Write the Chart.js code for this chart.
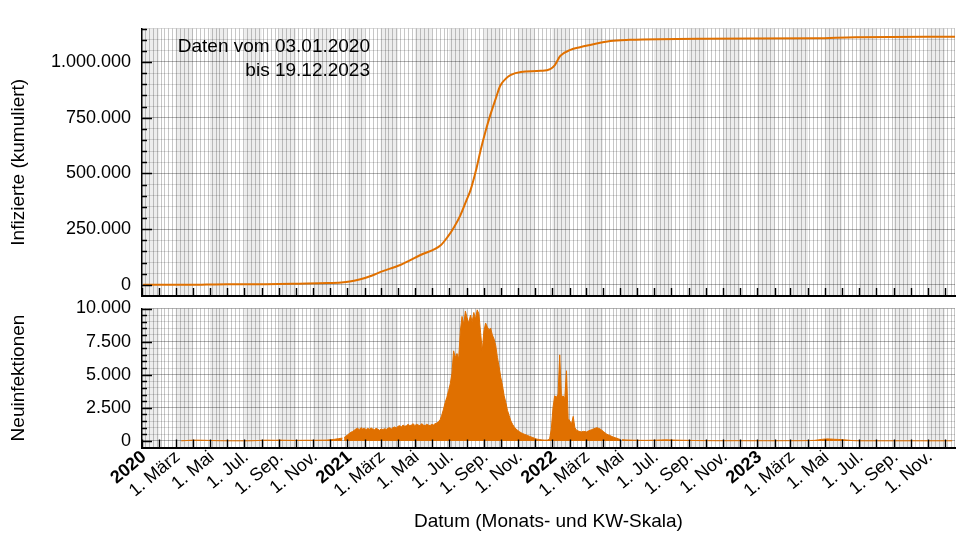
<!DOCTYPE html>
<html><head><meta charset="utf-8">
<script src="https://cdn.jsdelivr.net/npm/chart.js@4.4.1/dist/chart.umd.min.js"></script>
<style>
html,body{margin:0;padding:0;background:#fff;width:960px;height:540px;overflow:hidden;}
#c1{position:absolute;left:0;top:0;}
#c2{position:absolute;left:0;top:300px;}
</style></head><body>
<canvas id="c1" width="960" height="300"></canvas>
<canvas id="c2" width="960" height="240"></canvas>
<script>
// ---------------- data ----------------
const xStart = '2020-01-01';
const xEnd = '2023-12-19';
const noteLines = ['Daten vom 03.01.2020', 'bis 19.12.2023'];

// cumulative infections (top panel)
const cumDates = ['2020-01-03','2020-03-11','2020-04-10','2020-05-10','2020-06-09','2020-08-08','2020-10-07','2020-11-26','2020-12-21',
  '2021-01-05','2021-01-24','2021-02-14','2021-03-01','2021-04-05','2021-05-11','2021-06-16','2021-06-28','2021-07-10','2021-07-21',
  '2021-08-01','2021-08-08','2021-08-18','2021-08-26','2021-09-04','2021-09-12','2021-09-22','2021-09-30','2021-10-10','2021-10-19',
  '2021-11-06','2021-12-11','2021-12-28',
  '2022-01-05','2022-01-15','2022-02-02','2022-02-19','2022-03-09','2022-04-14','2022-05-19','2022-09-27',
  '2023-04-15','2023-06-24','2023-12-19'];
const cumValues = [0,0,300,2000,2300,3000,5500,8000,11000,
  15000,25000,42000,58000,89000,134000,178000,214000,260000,312000,
  380000,424000,515000,603000,690000,759000,835000,893000,925000,942000,
  955000,960000,968000,
  985000,1027000,1054000,1066000,1076000,1094000,1099000,1104000,
  1106000,1111000,1113000];

// new infections (bottom panel), three stretches with a fixed day step
const new2020Start = '2020-03-11', new2020Step = 7;
const new2020 = [5,20,40,50,55,50,45,35,25,15,10,8,5,5,3,3,5,5,10,20,35,50,55,50,45,60,50,45,40,35,40,45,50,45,45,50,55,60,80,120,170,210];

const newWaveStart = '2020-12-26', newWaveStep = 3;
const newWave = [
  250,350,450,550,650,700,800,900,950,850,
  1000,900,950,850,950,880,980,900,850,950,
  880,800,900,850,920,860,950,1000,900,1000,
  1050,980,1100,1150,1050,1200,1100,1150,1250,1150,
  1200,1300,1150,1250,1200,1150,1300,1200,1150,1250,
  1200,1150,1250,1200,1300,1350,1450,1600,1950,2400,
  2900,3300,3800,4300,5100,6800,6300,6600,6200,8300,
  9400,8800,9800,9300,8900,9500,9000,9700,9200,9900,
  9600,8200,6800,8300,8900,8600,8400,8500,8000,7700,
  7200,6300,5600,4800,4200,3400,2900,2300,1900,1500,
  1250,1050,900,800,700,620,550,500,450,400,
  350,300,250,200,150,120,100,80,70,60,
  60,70,150,900,2500,3400,3300,3500,6500,3300,
  3400,3200,5300,1700,1500,1300,1850,1000,800,750,
  700,680,720,700,680,750,800,850,900,950,
  1000,950,900,800,700,600,500,450,400,330,
  280,240,200,150,100];

const newLateStart = '2022-05-05', newLateStep = 7;
const newLate = [90,70,60,50,45,40,40,45,50,60,70,80,75,65,55,50,45,40,30,25,20,
  18,15,15,12,12,10,10,12,15,12,10,10,8,10,12,10,10,8,8,10,12,15,12,10,12,15,20,30,
  40,80,120,150,140,120,110,90,70,40,15,
  8,6,5,5,5,4,4,5,5,4,4,3,3,4,4,3,3,3,3,3,3,3,3,3,3];

const monthLabels = ['', '', '1. März', '', '1. Mai', '', '1. Jul.', '', '1. Sep.', '', '1. Nov.', ''];

// ---------------- helpers ----------------
const FONT = "'Liberation Sans', Arial, sans-serif";
const DAY = 86400000;
const t0 = Date.parse(xStart);
const dayOf = s => (Date.parse(s) - t0) / DAY;
const xMax = dayOf(xEnd);
const ORANGE = '#E07000';

const monthDays = [], monthIdx = [];
for (let y = 2020; y <= 2024; y++) for (let m = 0; m < 12; m++) {
  const d = (Date.UTC(y, m, 1) - t0) / DAY;
  if (d > xMax + 40) break;
  monthDays.push(d); monthIdx.push(m);
}
const weekDays = [];
for (let d = 5; d <= xMax; d += 7) weekDays.push(d);

const seg = (start, step, vals) => vals.map((v, i) => ({x: dayOf(start) + i * step, y: v}));
const deFmt = v => String(v).replace(/\B(?=(\d{3})+(?!\d))/g, '.');

function monthOf(v) { const dt = new Date(t0 + v * DAY); return {m: dt.getUTCMonth(), y: dt.getUTCFullYear()}; }

const decor = {
  id: 'decor',
  beforeDraw(chart) {
    const {ctx, chartArea: a, scales: {x}} = chart;
    ctx.save();
    ctx.beginPath(); ctx.rect(a.left, a.top, a.right - a.left, a.bottom - a.top); ctx.clip();
    ctx.fillStyle = '#ededed';
    for (let i = 0; i < monthDays.length - 1; i++) {
      if (monthIdx[i] % 2 !== 0) continue;
      const x0 = x.getPixelForValue(monthDays[i]);
      const x1 = x.getPixelForValue(monthDays[i + 1]);
      ctx.fillRect(x0, a.top, x1 - x0, a.bottom - a.top);
    }
    ctx.restore();
  },
  beforeDatasetsDraw(chart) {
    const {ctx, chartArea: a, scales: {x}} = chart;
    ctx.save();
    ctx.strokeStyle = 'rgba(0,0,0,0.22)';
    ctx.lineWidth = 1;
    ctx.beginPath();
    weekDays.forEach(d => {
      const px = Math.round(x.getPixelForValue(d)) + 0.5;
      if (px <= a.left + 1 || px > a.right) return;
      ctx.moveTo(px, a.top); ctx.lineTo(px, a.bottom);
    });
    ctx.stroke();
    ctx.restore();
  },
  afterDraw(chart, args, opts) {
    const {ctx, chartArea: a, scales: {x, y}} = chart;
    ctx.save();
    ctx.strokeStyle = '#000';
    ctx.lineWidth = 1.4;
    ctx.beginPath();
    y.ticks.forEach(t => {
      if (t.value <= y.min) return;
      const py = Math.round(y.getPixelForValue(t.value)) + 0.5;
      const len = (t.value % opts.major === 0) ? 10 : 5;
      ctx.moveTo(a.left, py); ctx.lineTo(a.left + len, py);
    });
    monthDays.forEach(d => {
      if (d > xMax) return;
      const px = Math.round(x.getPixelForValue(d)) + 0.5;
      ctx.moveTo(px, a.bottom); ctx.lineTo(px, a.bottom - 8);
    });
    ctx.stroke();
    if (opts.note) {
      ctx.fillStyle = '#000';
      ctx.font = '19px ' + FONT;
      ctx.textAlign = 'right';
      ctx.textBaseline = 'middle';
      opts.note.forEach((line, i) => ctx.fillText(line, 370, 47 + i * 24));
    }
    ctx.restore();
  }
};

function yScale(min, max, step, major, title) {
  return {
    type: 'linear', min, max,
    afterBuildTicks(s) {
      const t = [];
      for (let v = min; v <= max + 1e-6; v += step) t.push({value: v});
      s.ticks = t;
    },
    afterFit(s) { s.width = 142; s.paddingTop = 0; s.paddingBottom = 0; },
    ticks: {
      autoSkip: false, padding: 11, color: '#000',
      font: {family: FONT, size: 18},
      callback: v => (v >= 0 && v % major === 0) ? deFmt(v) : ''
    },
    grid: {
      drawTicks: false, lineWidth: 1,
      color: ctx => (ctx.tick && ctx.tick.value % major === 0) ? 'rgba(0,0,0,0.30)' : 'rgba(0,0,0,0.14)'
    },
    border: {color: '#000', width: 1.5},
    title: {display: true, text: title, color: '#000', font: {family: FONT, size: 19}, padding: {top: 7, bottom: 0}}
  };
}

// ---------------- top chart ----------------
new Chart(document.getElementById('c1'), {
  type: 'line',
  data: {
    datasets: [{
      data: cumDates.map((d, i) => ({x: dayOf(d), y: cumValues[i]})),
      borderColor: ORANGE, borderWidth: 2, pointRadius: 0, fill: false,
      cubicInterpolationMode: 'monotone'
    }]
  },
  options: {
    responsive: false, animation: false, devicePixelRatio: 1,
    layout: {padding: {top: 28.5, right: 5, left: 0, bottom: 0}},
    plugins: {legend: {display: false}, tooltip: {enabled: false}, decor: {note: noteLines, major: 250000}},
    scales: {
      x: {
        type: 'linear', min: 0, max: xMax,
        ticks: {display: false},
        grid: {display: true, drawOnChartArea: false, drawTicks: false},
        border: {color: '#000', width: 2},
        afterFit(s) { s.height = 4; s.paddingLeft = 0; s.paddingRight = 0; }
      },
      y: yScale(-50000, 1150000, 50000, 250000, 'Infizierte (kumuliert)')
    }
  },
  plugins: [decor]
});

// ---------------- bottom chart ----------------
const areaStyle = {borderColor: ORANGE, backgroundColor: ORANGE, borderWidth: 1, pointRadius: 0, fill: 'origin', tension: 0};
new Chart(document.getElementById('c2'), {
  type: 'line',
  data: {
    datasets: [
      Object.assign({data: seg(new2020Start, new2020Step, new2020)}, areaStyle),
      Object.assign({data: seg(newWaveStart, newWaveStep, newWave)}, areaStyle),
      Object.assign({data: seg(newLateStart, newLateStep, newLate)}, areaStyle)
    ]
  },
  options: {
    responsive: false, animation: false, devicePixelRatio: 1,
    layout: {padding: {top: 8.5, right: 5, left: 0, bottom: 0}},
    plugins: {legend: {display: false}, tooltip: {enabled: false}, decor: {major: 2500}},
    scales: {
      x: {
        type: 'linear', min: 0, max: xMax,
        afterBuildTicks(s) { s.ticks = monthDays.filter(d => d <= xMax).map(d => ({value: d})); },
        afterFit(s) { s.height = 92.5; s.paddingLeft = 0; s.paddingRight = 0; },
        ticks: {
          autoSkip: false, minRotation: 40, maxRotation: 40, labelOffset: 2, padding: -1, color: '#000',
          font: ctx => {
            const isYear = ctx.tick && monthOf(ctx.tick.value).m === 0;
            return {family: FONT, size: 18, weight: isYear ? 'bold' : 'normal'};
          },
          callback: v => { const mo = monthOf(v); return mo.m === 0 ? String(mo.y) : monthLabels[mo.m]; }
        },
        grid: {display: true, drawOnChartArea: false, drawTicks: false},
        border: {color: '#000', width: 2},
        title: {display: true, text: 'Datum (Monats- und KW-Skala)', color: '#000', font: {family: FONT, size: 19}, padding: {top: 0, bottom: 7}}
      },
      y: yScale(-500, 10000, 500, 2500, 'Neuinfektionen')
    }
  },
  plugins: [decor]
});
</script>
</body></html>
